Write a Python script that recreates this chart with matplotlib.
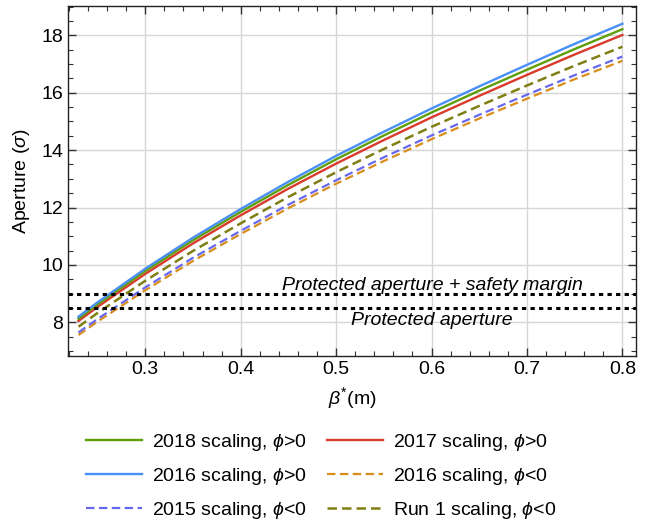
import matplotlib
matplotlib.use("Agg")
import matplotlib.pyplot as plt
from matplotlib.ticker import MultipleLocator

plt.rcParams['font.family'] = ['Liberation Sans', 'DejaVu Sans']
plt.rcParams['mathtext.fontset'] = 'custom'
plt.rcParams['mathtext.rm'] = 'Liberation Sans'
plt.rcParams['mathtext.it'] = 'Liberation Sans:italic'
plt.rcParams['mathtext.fallback'] = 'cm'

beta = [0.23, 0.25, 0.30, 0.35, 0.40, 0.45, 0.50, 0.55, 0.60, 0.65, 0.70, 0.75, 0.80]
ap_2018_pos = [8.13, 8.63, 9.79, 10.86, 11.85, 12.79, 13.68, 14.51, 15.31, 16.07, 16.80, 17.52, 18.21]
ap_2017_pos = [8.05, 8.54, 9.69, 10.75, 11.73, 12.66, 13.53, 14.35, 15.14, 15.89, 16.62, 17.33, 18.01]
ap_2016_pos = [8.20, 8.70, 9.87, 10.95, 11.95, 12.90, 13.80, 14.64, 15.45, 16.22, 16.97, 17.70, 18.40]
ap_2016_neg = [7.56, 8.03, 9.12, 10.14, 11.08, 11.98, 12.83, 13.62, 14.38, 15.10, 15.79, 16.47, 17.11]
ap_2015_neg = [7.65, 8.12, 9.22, 10.25, 11.19, 12.10, 12.95, 13.75, 14.51, 15.23, 15.93, 16.61, 17.26]
ap_run1_neg = [7.85, 8.33, 9.45, 10.49, 11.45, 12.37, 13.23, 14.04, 14.81, 15.54, 16.25, 16.94, 17.60]

protected_margin = 9.0
protected = 8.5

labels = {
    '2018p': r'2018 scaling, $\phi$>0',
    '2017p': r'2017 scaling, $\phi$>0',
    '2016p': r'2016 scaling, $\phi$>0',
    '2016n': r'2016 scaling, $\phi$<0',
    '2015n': r'2015 scaling, $\phi$<0',
    'run1n': r'Run 1 scaling, $\phi$<0',
}

fig = plt.figure(figsize=(6.5, 5.24), dpi=100)
ax = fig.add_axes([0.1046, 0.3206, 0.874, 0.668])

FS = 14

dash = (3.8, 2.0)
h = {}
h['2016n'], = ax.plot(beta, ap_2016_neg, color='#D98E1C', lw=1.6, dashes=dash, label=labels['2016n'])
h['2015n'], = ax.plot(beta, ap_2015_neg, color='#6868EE', lw=1.6, dashes=dash, label=labels['2015n'])
h['run1n'], = ax.plot(beta, ap_run1_neg, color='#7F7F14', lw=1.8, dashes=dash, label=labels['run1n'])
h['2017p'], = ax.plot(beta, ap_2017_pos, color='#D93A2C', lw=1.7, label=labels['2017p'])
h['2018p'], = ax.plot(beta, ap_2018_pos, color='#5E9E0A', lw=1.7, label=labels['2018p'])
h['2016p'], = ax.plot(beta, ap_2016_pos, color='#4A8FF5', lw=1.7, label=labels['2016p'])

ax.axhline(protected_margin, color='black', lw=2.2, dashes=(1.4, 1.4))
ax.axhline(protected, color='black', lw=2.2, dashes=(1.4, 1.4))
ax.text(0.6005, 9.28, 'Protected aperture + safety margin', style='italic',
        fontsize=FS, ha='center', va='center')
ax.text(0.6005, 8.05, 'Protected aperture', style='italic',
        fontsize=FS, ha='center', va='center')

ax.set_xlim(0.219, 0.8144)
ax.set_ylim(6.83, 19.02)
ax.xaxis.set_major_locator(MultipleLocator(0.1))
ax.xaxis.set_minor_locator(MultipleLocator(0.02))
ax.yaxis.set_major_locator(MultipleLocator(2))
ax.yaxis.set_minor_locator(MultipleLocator(0.5))
ax.tick_params(which='both', direction='in', top=True, right=True, labelsize=FS,
               color='#333333')
ax.tick_params(which='major', length=6, width=1.0)
ax.tick_params(which='minor', length=3.5, width=0.8)
ax.set_xticks([0.3, 0.4, 0.5, 0.6, 0.7, 0.8])
ax.set_xticklabels(['0.3', '0.4', '0.5', '0.6', '0.7', '0.8'])
ax.grid(True, which='major', color='#d6d6d6', lw=1.0)
ax.set_axisbelow(True)
for s in ax.spines.values():
    s.set_color('#222222')
    s.set_linewidth(1.0)

ax.set_xlabel(r'$\beta^{*}$(m)', fontsize=FS, labelpad=5)
ax.set_ylabel(r'Aperture ($\sigma$)', fontsize=FS, labelpad=7)

order = ['2018p', '2016p', '2015n', '2017p', '2016n', 'run1n']
fig.legend([h[k] for k in order], [labels[k] for k in order], ncol=2,
           loc='upper center', bbox_to_anchor=(0.494, 0.2085),
           frameon=False, fontsize=FS, handlelength=2.9, handletextpad=0.5,
           columnspacing=1.05, labelspacing=0.66, borderpad=0.4)

fig.savefig('out.png', dpi=100)
